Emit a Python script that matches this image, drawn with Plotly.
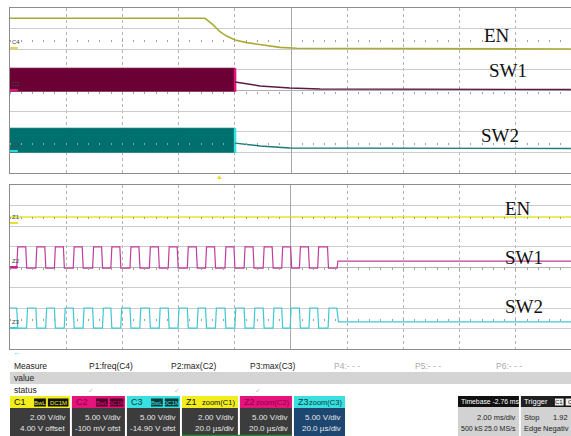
import plotly.graph_objects as go

W, H = 571, 436

# ---------------- data ----------------
# Top window: 2 ms/div, time in ms relative to screen centre, amplitude in divisions
en_top_t = [-10.0, -3.06, -2.77, -2.53, -2.29, -1.99, -1.58, -0.99, -0.39, 0.20, 9.96]
en_top_v = [3.50, 3.50, 3.18, 2.85, 2.64, 2.45, 2.32, 2.19, 2.09, 2.05, 2.01]

sw1_band_t = [-10.0, -1.99]
sw1_band_hi = [1.08, 1.08]
sw1_band_lo = [-0.06, -0.06]
sw1_after_t = [-1.99, -1.10, -0.04, 1.03, 9.96]
sw1_after_v = [0.41, 0.22, 0.12, 0.07, 0.05]

sw2_band_t = [-10.0, -1.99]
sw2_band_hi = [-1.83, -1.83]
sw2_band_lo = [-3.02, -3.02]
sw2_after_t = [-1.99, -1.10, -0.04, 9.96]
sw2_after_v = [-2.55, -2.69, -2.79, -2.81]

# Zoom window: 20 us/div, time in us relative to screen centre
en_zoom_t = [-100.0, 99.66]
en_zoom_v = [2.44, 2.44]

sw1_rise = [-97.6, -90.8, -84.2, -77.5, -70.6, -64.1, -57.3, -50.4, -43.7,
            -36.9, -30.4, -23.5, -16.7, -9.9, -3.3, 3.0, 9.5]
sw1_fall = [-94.4, -87.6, -81.0, -74.3, -67.4, -60.9, -54.1, -47.2, -40.5,
            -33.7, -27.2, -20.3, -13.5, -6.7, -0.1, 6.2, 13.0]
sw1_high, sw1_low = 0.98, -0.05
sw1_stop_t, sw1_idle_v = 16.4, 0.29

sw2_rise = [-94.1, -87.3, -80.7, -74.0, -67.1, -60.6, -53.8, -46.9, -40.2,
            -33.4, -26.9, -20.0, -13.2, -6.4, -0.3, 6.4, 13.2]
sw2_fall = [-90.8, -84.2, -77.5, -70.6, -64.1, -57.3, -50.4, -43.7, -36.9,
            -30.4, -23.5, -16.7, -9.9, -3.3, 3.0, 9.5, 16.3]
sw2_first_fall = -97.6
sw2_high, sw2_low = -2.00, -2.98
sw2_idle_v = -2.68

# ---------------- helpers ----------------
def px(x):
    return x / W

def py(y):
    return 1 - y / H


def build_sw1():
    xs, ys = [-100.0], [sw1_low]
    for r, f in zip(sw1_rise, sw1_fall):
        xs += [r, r + 0.35, f, f + 0.35]
        ys += [sw1_low, sw1_high, sw1_high, sw1_low]
    xs += [sw1_stop_t, sw1_stop_t + 0.3, 99.66]
    ys += [sw1_low, sw1_idle_v, sw1_idle_v]
    return xs, ys


def build_sw2():
    xs, ys = [-100.0, sw2_first_fall, sw2_first_fall + 0.35], [sw2_high, sw2_high, sw2_low]
    for r, f in zip(sw2_rise, sw2_fall):
        xs += [r, r + 0.35, f, f + 0.35]
        ys += [sw2_low, sw2_high, sw2_high, sw2_low]
    xs[-1] = sw2_fall[-1] + 0.6
    ys[-1] = sw2_idle_v
    xs += [99.66]
    ys += [sw2_idle_v]
    return xs, ys


fig = go.Figure()

top_dom = [py(173), py(8)]
bot_dom = [py(349), py(185)]

axis_common = dict(showticklabels=False, ticks="", showline=True, linecolor="#8c8c8c",
                   mirror=True, fixedrange=True)
layout_axes = dict(
    xaxis=dict(domain=[0, 1], range=[-10, 9.964], anchor="y", dtick=2, tick0=0,
               showgrid=True, gridcolor="#b4b4b4", griddash="dot",
               zeroline=True, zerolinecolor="#a8a8a8", zerolinewidth=1, **axis_common),
    yaxis=dict(domain=top_dom, range=[-4, 4], anchor="x", dtick=1, tick0=0,
               showgrid=True, gridcolor="#cccccc", zeroline=True,
               zerolinecolor="#b0b0b0", zerolinewidth=1, **axis_common),
    xaxis2=dict(domain=[0, 1], range=[-100, 99.66], anchor="y2", dtick=20, tick0=0,
                showgrid=True, gridcolor="#b4b4b4", griddash="dot",
                zeroline=True, zerolinecolor="#a8a8a8", zerolinewidth=1, **axis_common),
    yaxis2=dict(domain=bot_dom, range=[-4, 4], anchor="x2", dtick=1, tick0=0,
                showgrid=True, gridcolor="#cccccc", zeroline=True,
                zerolinecolor="#b0b0b0", zerolinewidth=1, **axis_common),
)

# rows of small division ticks (scope graticule marks) at 0 and +/-2.5 div
tick_ms = [round(-10 + 0.4 * i, 2) for i in range(51)]
tick_us = [round(-100 + 4 * i, 1) for i in range(51)]
n = 3
for dom, base, ybase, tv, rng in [(top_dom, "x", "y", tick_ms, [-10, 9.964]),
                                  (bot_dom, "x2", "y2", tick_us, [-100, 99.66])]:
    for lvl in (2.5, 0.0, -2.5):
        pos = dom[0] + (lvl + 4) / 8 * (dom[1] - dom[0])
        layout_axes["xaxis%d" % n] = dict(
            overlaying=base, anchor="free", position=pos, range=rng,
            tickvals=tv, ticks="outside", ticklen=2, tickwidth=1, tickcolor="#a0a0a0",
            showticklabels=False, showgrid=False, zeroline=False, showline=False,
            fixedrange=True)
        fig.add_trace(go.Scatter(x=[], y=[], mode="lines", xaxis="x%d" % n, yaxis=ybase))
        n += 1

# ---- top window traces ----
fig.add_trace(go.Scatter(x=en_top_t, y=en_top_v, mode="lines",
                         line=dict(color="#aaaa34", width=1.6), xaxis="x", yaxis="y"))
for bt, lo, hi, fillc, edgec, at, av, linec in [
    (sw1_band_t, sw1_band_lo, sw1_band_hi, "#6a0034", "#e3127c", sw1_after_t, sw1_after_v, "#5a1a45"),
    (sw2_band_t, sw2_band_lo, sw2_band_hi, "#00706e", "#33e2e2", sw2_after_t, sw2_after_v, "#1c7a7a"),
]:
    fig.add_trace(go.Scatter(x=bt, y=lo, mode="lines", line=dict(width=0, color=fillc),
                             xaxis="x", yaxis="y"))
    fig.add_trace(go.Scatter(x=bt, y=hi, mode="lines", line=dict(width=1, color=fillc),
                             fill="tonexty", fillcolor=fillc, xaxis="x", yaxis="y"))
    fig.add_trace(go.Scatter(x=[bt[-1], bt[-1]], y=[lo[-1], hi[-1]], mode="lines",
                             line=dict(width=2.5, color=edgec), xaxis="x", yaxis="y"))
    fig.add_trace(go.Scatter(x=at, y=av, mode="lines", line=dict(width=1.4, color=linec),
                             xaxis="x", yaxis="y"))

# ---- zoom window traces ----
fig.add_trace(go.Scatter(x=en_zoom_t, y=en_zoom_v, mode="lines",
                         line=dict(color="#e6e630", width=1.6), xaxis="x2", yaxis="y2"))
sx, sy = build_sw1()
fig.add_trace(go.Scatter(x=sx, y=sy, mode="lines", line=dict(color="#c23c9c", width=1.2),
                         xaxis="x2", yaxis="y2"))
cx, cy = build_sw2()
fig.add_trace(go.Scatter(x=cx, y=cy, mode="lines", line=dict(color="#3ec8d2", width=1.2),
                         xaxis="x2", yaxis="y2"))

fig.update_layout(
    width=W, height=H, margin=dict(l=10, r=0, t=0, b=0),
    paper_bgcolor="white", plot_bgcolor="white", showlegend=False,
    **layout_axes,
)

shapes = []
annotations = []
SANS = "Liberation Sans, Arial, sans-serif"


def text(x, y, s, size=8.5, color="#222", xanchor="left", family=None, **kw):
    annotations.append(dict(x=px(x), y=py(y), xref="paper", yref="paper", text=s,
                            showarrow=False, xanchor=xanchor, yanchor="middle",
                            font=dict(size=size, color=color, family=family or SANS),
                            **kw))


def rect(x0, y0, x1, y1, fill, line=None):
    shapes.append(dict(type="rect", xref="paper", yref="paper", x0=px(x0), x1=px(x1),
                       y0=py(y1), y1=py(y0), fillcolor=fill,
                       line=dict(width=1 if line else 0, color=line or fill), layer="above"))


def hline(x0, x1, y, color, width=1.5):
    shapes.append(dict(type="line", xref="paper", yref="paper", x0=px(x0), x1=px(x1),
                       y0=py(y), y1=py(y), line=dict(color=color, width=width)))


# trace labels (serif)
serif = "Liberation Serif, DejaVu Serif, serif"
for (x, y, s) in [(480, 36, "EN"), (486, 70, "SW1"), (477, 135, "SW2"),
                  (502, 209, "EN"), (502, 257, "SW1"), (502, 306, "SW2")]:
    text(x, y, s, size=19, color="#111", family=serif)

# channel markers at left
for (y, lbl, col) in [(42, "C4", "#e0d840"), (84, "C2", "#e0147c"), (145, "C3", "#33d8e0"),
                      (217, "Z1", "#e6e030"), (261, "Z2", "#d0208c"), (322, "Z3", "#33d0dc")]:
    text(0.5, y, lbl, size=6, color="#444")
    hline(0, 8, y + 6, col, 2)

# trigger marker
text(213, 176, "▲", size=7, color="#e8d820", xanchor="center")
# small arrow
text(1, 352, "←", size=8, color="#3cc8d8")

# measurement table
rect(0, 372, 571, 384, "#d4d4d4")
text(2, 366, "Measure")
text(2, 378, "value")
text(2, 390, "status")
for (x, s, c) in [(103, "P1:freq(C4)", "#222"), (187, "P2:max(C2)", "#222"),
                  (268, "P3:max(C3)", "#222"), (343, "P4:- - -", "#aaaaaa"),
                  (425, "P5:- - -", "#aaaaaa"), (508, "P6:- - -", "#aaaaaa")]:
    text(x, 366, s, color=c, xanchor="center")
for x in [82, 170, 252]:
    text(x, 390, "✓", size=7, color="#c8c8c8", xanchor="center")

# channel boxes
boxes = [
    (0, 61, "#f2ee1e", "#111", "C1", True, "#111", "#f2ee1e", "#3c3c3c", ["2.00 V/div", "4.00 V offset"]),
    (63, 117, "#e4147c", "#8a0046", "C2", True, "#4a0026", "#e4147c", "#3c3c3c", ["5.00 V/div", "-100 mV ofst"]),
    (119, 173, "#38e0e0", "#0a3a3a", "C3", True, "#0c3838", "#38e0e0", "#3c3c3c", ["5.00 V/div", "-14.90 V ofst"]),
    (175, 232, "#f2ee1e", "#111", "Z1", False, None, None, "#3c3c3c", ["2.00 V/div", "20.0 µs/div"]),
    (234, 287, "#e4147c", "#8a0046", "Z2", False, None, None, "#3c3c3c", ["5.00 V/div", "20.0 µs/div"]),
    (289, 341, "#38e0e0", "#0a3a3a", "Z3", False, None, None, "#1d4670", ["5.00 V/div", "20.0 µs/div"]),
]
for (x0, x1, hc, htc, name, tags, tagbg, tagfg, bodyc, lines) in boxes:
    rect(x0, 396, x1, 408, hc)
    rect(x0, 408, x1, 436, bodyc)
    text(x0 + 2, 402, name, size=9, color=htc)
    if tags:
        r_end = x1 - 1
        rect(x0 + 24, 398, x0 + 37, 407, tagbg, line=tagfg)
        text(x0 + 30.5, 402.5, "BwL", size=6, color=tagfg, xanchor="center")
        rect(x0 + 38, 398, r_end, 407, tagbg, line=tagfg)
        text((x0 + 38 + r_end) / 2, 402.5, "DC1M", size=6, color=tagfg, xanchor="center")
    else:
        text(x1 - 1, 402, "zoom(C%s)" % name[1], size=7.5, color=htc, xanchor="right")
    text(x1 - 2, 417, lines[0], size=8, color="#e8e8e8", xanchor="right")
    text(x1 - 2, 428, lines[1], size=8, color="#e8e8e8", xanchor="right")
# Z boxes have a green bottom edge
hline(175, 287, 435.5, "#2a8a3a", 1.5)

# timebase box
rect(456, 396, 518, 407, "#101010")
rect(456, 407, 518, 436, "#d2d2d2")
text(457, 401.5, "Timebase -2.76 ms", size=6.8, color="white")
text(517, 417, "2.00 ms/div", size=7.5, xanchor="right")
text(457, 428, "500 kS", size=7)
text(517, 428, "25.0 MS/s", size=7, xanchor="right")
# trigger box
rect(520, 396, 571, 407, "#202020")
rect(520, 407, 571, 436, "#d2d2d2")
text(521, 401.5, "Trigger", size=7.5, color="white")
rect(554, 398, 564, 406, "#f0f0f0", line="#111")
text(559, 402, "C1", size=6, color="#111", xanchor="center")
rect(565, 398, 572, 406, "#f0f0f0", line="#111")
text(566, 402, "C", size=6, color="#111")
text(521, 417, "Stop", size=7.5)
text(570, 417, "1.92", size=7.5, xanchor="right")
text(521, 428, "Edge", size=7.5)
text(571, 428, "Negativ", size=7.5, xanchor="right")

fig.update_layout(shapes=shapes, annotations=annotations)
fig.update_traces(hoverinfo="skip")
fig.write_html("out.html", config={"displayModeBar": False},
               post_script="document.body.style.margin='0';document.body.style.overflow='hidden';")
